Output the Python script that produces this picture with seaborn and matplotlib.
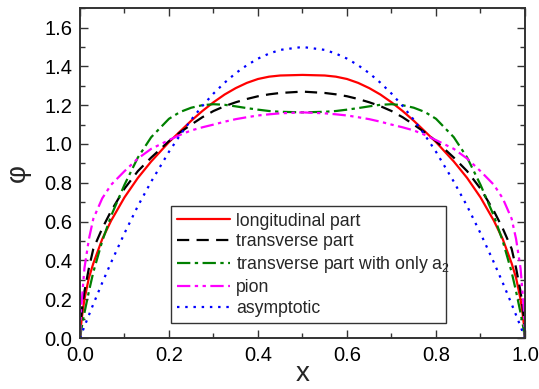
import numpy as np
import pandas as pd
import matplotlib
matplotlib.use("Agg")
import matplotlib.pyplot as plt
from matplotlib.ticker import MultipleLocator
import seaborn as sns

# values
x_vals = [0.0, 0.0025, 0.005, 0.01, 0.02, 0.03, 0.05, 0.07, 0.1, 0.13, 0.16, 0.2,
          0.225, 0.25, 0.275, 0.3, 0.325, 0.35, 0.375, 0.4, 0.425, 0.45, 0.5,
          0.55, 0.575, 0.6, 0.625, 0.65, 0.675, 0.7, 0.725, 0.75, 0.775, 0.8,
          0.84, 0.87, 0.9, 0.93, 0.95, 0.97, 0.98, 0.99, 0.995, 0.9975, 1.0]

longitudinal = [0.0, 0.07, 0.12, 0.2, 0.31, 0.385, 0.51, 0.605, 0.725, 0.825, 0.91, 1.01,
                1.065, 1.12, 1.17, 1.215, 1.255, 1.288, 1.315, 1.335, 1.347, 1.353, 1.356,
                1.353, 1.347, 1.335, 1.315, 1.288, 1.255, 1.215, 1.17, 1.12, 1.065, 1.01,
                0.91, 0.825, 0.725, 0.605, 0.51, 0.385, 0.31, 0.2, 0.12, 0.07, 0.0]

transverse = [0.0, 0.1, 0.16, 0.24, 0.36, 0.46, 0.565, 0.655, 0.77, 0.86, 0.93, 1.015,
              1.06, 1.1, 1.138, 1.17, 1.195, 1.215, 1.232, 1.246, 1.256, 1.263, 1.27,
              1.263, 1.256, 1.246, 1.232, 1.215, 1.195, 1.17, 1.138, 1.1, 1.06, 1.015,
              0.93, 0.86, 0.77, 0.655, 0.565, 0.46, 0.36, 0.24, 0.16, 0.1, 0.0]

transverse_a2 = [0.0, 0.035, 0.07, 0.13, 0.24, 0.34, 0.5, 0.63, 0.79, 0.93, 1.035, 1.13,
                 1.165, 1.187, 1.2, 1.205, 1.202, 1.194, 1.185, 1.177, 1.17, 1.166, 1.163,
                 1.166, 1.17, 1.177, 1.185, 1.194, 1.202, 1.205, 1.2, 1.187, 1.165, 1.13,
                 1.035, 0.93, 0.79, 0.63, 0.5, 0.34, 0.24, 0.13, 0.07, 0.035, 0.0]

pion = [0.0, 0.14, 0.22, 0.36, 0.51, 0.615, 0.72, 0.79, 0.86, 0.925, 0.975, 1.02,
        1.047, 1.07, 1.086, 1.1, 1.115, 1.128, 1.138, 1.147, 1.153, 1.158, 1.163,
        1.158, 1.153, 1.147, 1.138, 1.128, 1.115, 1.1, 1.086, 1.07, 1.047, 1.02,
        0.975, 0.925, 0.86, 0.79, 0.72, 0.615, 0.51, 0.36, 0.22, 0.14, 0.0]

asymptotic = [0.0, 0.015, 0.03, 0.06, 0.118, 0.175, 0.285, 0.39, 0.54, 0.68, 0.806, 0.96,
              1.046, 1.125, 1.196, 1.26, 1.316, 1.365, 1.406, 1.44, 1.466, 1.485, 1.5,
              1.485, 1.466, 1.44, 1.406, 1.365, 1.316, 1.26, 1.196, 1.125, 1.046, 0.96,
              0.806, 0.68, 0.54, 0.39, 0.285, 0.175, 0.118, 0.06, 0.03, 0.015, 0.0]

labels = ["longitudinal part", "transverse part", "transverse part with only a$_2$",
          "pion", "asymptotic"]

sns.set_style("ticks")
plt.rcParams['font.family'] = ['Liberation Sans', 'DejaVu Sans']
plt.rcParams['mathtext.fontset'] = 'custom'
plt.rcParams['mathtext.rm'] = 'Liberation Sans'

fig = plt.figure(figsize=(5.39, 3.89), dpi=100)
ax = fig.add_axes([0.1484, 0.131, 0.8256, 0.848])

styles = [
    dict(color="#ff0000", dashes=None),
    dict(color="#000000", dashes=(5.5, 3.3)),
    dict(color="#008000", dashes=(6, 2, 1.5, 2)),
    dict(color="#ff00ff", dashes=(6, 2, 1.5, 2, 1.5, 2)),
    dict(color="#0000ff", dashes=(1.1, 2.6)),
]
series = [longitudinal, transverse, transverse_a2, pion, asymptotic]

for vals, lab, st in zip(series, labels, styles):
    df = pd.DataFrame({"x": x_vals, "y": vals})
    sns.lineplot(data=df, x="x", y="y", ax=ax, color=st["color"],
                 linewidth=1.6, label=lab, sort=False)
    l = ax.get_lines()[-1]
    if st["dashes"] is not None:
        l.set_dashes(st["dashes"])

ax.set_xlim(0, 1.0)
ax.set_ylim(0, 1.7)
ax.xaxis.set_major_locator(MultipleLocator(0.2))
ax.xaxis.set_minor_locator(MultipleLocator(0.1))
ax.yaxis.set_major_locator(MultipleLocator(0.2))
ax.yaxis.set_minor_locator(MultipleLocator(0.1))
ax.tick_params(which="both", direction="in", top=True, right=True, colors="#333333",
               labelcolor="black", width=1.0, pad=5.5)
ax.tick_params(which="major", length=6, labelsize=14.5)
ax.tick_params(which="minor", length=3.5)
ax.set_xticklabels([f"{v:.1f}" for v in ax.get_xticks()])
ax.set_yticklabels([f"{v:.1f}" for v in ax.get_yticks()])
for sp in ax.spines.values():
    sp.set_linewidth(1.4)
    sp.set_color("#333333")

ax.set_xlabel("x", fontsize=20, labelpad=-3)
ax.set_ylabel("φ", fontsize=20, labelpad=10)

leg = ax.legend(loc="lower left", bbox_to_anchor=(0.204, 0.045, 0.618, 0.355),
                mode="expand", frameon=True, fancybox=False, shadow=False,
                fontsize=12.7, handlelength=3.0, handletextpad=0.35,
                borderaxespad=0, labelspacing=0.22, borderpad=0.35)
leg.get_frame().set_edgecolor("black")
leg.get_frame().set_linewidth(1.0)

fig.savefig("out.png", dpi=100)
